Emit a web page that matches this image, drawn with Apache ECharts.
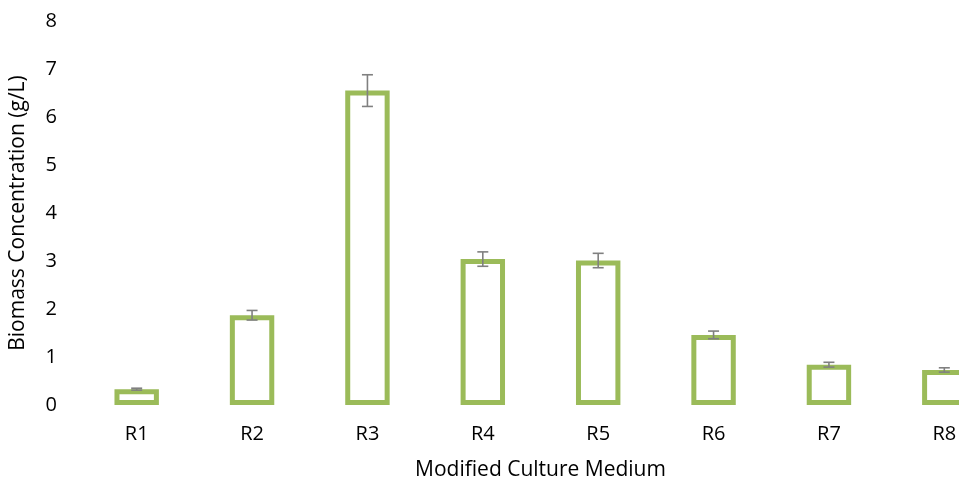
<!DOCTYPE html>
<html>
<head>
<meta charset="utf-8">
<script src="https://cdn.jsdelivr.net/npm/echarts@6/dist/echarts.min.js"></script>
<style>
html,body{margin:0;padding:0;background:#fff;overflow:hidden;width:959px;height:486px;}
#chart{width:1045px;height:486px;}
</style>
</head>
<body>
<div id="chart"></div>
<script>
var categories = ['R1','R2','R3','R4','R5','R6','R7','R8'];
var biomass = [0.33, 1.87, 6.55, 3.04, 3.01, 1.46, 0.84, 0.73];
var errors = [0.02, 0.10, 0.33, 0.15, 0.15, 0.08, 0.05, 0.045];
var yTicks = [0,1,2,3,4,5,6,7,8];

var chart = echarts.init(document.getElementById('chart'));
var font = 'Open Sans';
var errData = categories.map(function(c,i){ return [i, biomass[i], errors[i]]; });

chart.setOption({
  animation: false,
  grid: {left: 77, right: 43, top: 21, bottom: 80, containLabel: false},
  xAxis: {
    type: 'category',
    data: categories,
    axisLine: {show: false},
    axisTick: {show: false},
    axisLabel: {color: '#000', fontFamily: font, fontSize: 20, margin: 19},
    name: 'Modified Culture Medium',
    nameLocation: 'middle',
    nameGap: 55,
    nameTextStyle: {color: '#000', fontFamily: font, fontSize: 21}
  },
  yAxis: {
    type: 'value',
    min: yTicks[0],
    max: yTicks[yTicks.length-1],
    interval: 1,
    splitLine: {show: false},
    axisLine: {show: false},
    axisTick: {show: false},
    axisLabel: {color: '#000', fontFamily: font, fontSize: 20, margin: 22},
    name: 'Biomass Concentration (g/L)',
    nameLocation: 'middle',
    nameGap: 50,
    nameTextStyle: {color: '#000', fontFamily: font, fontSize: 21}
  },
  series: [
    {
      type: 'bar',
      data: biomass,
      barWidth: '38.5%',
      itemStyle: {color: '#ffffff', borderColor: '#9BBB59', borderWidth: 5}
    },
    {
      type: 'custom',
      data: errData,
      z: 10,
      renderItem: function(params, api){
        var x = api.value(0), v = api.value(1), e = api.value(2);
        var hi = api.coord([x, v + e]);
        var lo = api.coord([x, v - e]);
        var hw = 5.5;
        var st = {stroke: '#808080', lineWidth: 1.6};
        return {
          type: 'group',
          children: [
            {type: 'line', shape: {x1: hi[0], y1: hi[1], x2: lo[0], y2: lo[1]}, style: st},
            {type: 'line', shape: {x1: hi[0]-hw, y1: hi[1], x2: hi[0]+hw, y2: hi[1]}, style: st},
            {type: 'line', shape: {x1: lo[0]-hw, y1: lo[1], x2: lo[0]+hw, y2: lo[1]}, style: st}
          ]
        };
      }
    }
  ]
});
</script>
</body>
</html>
